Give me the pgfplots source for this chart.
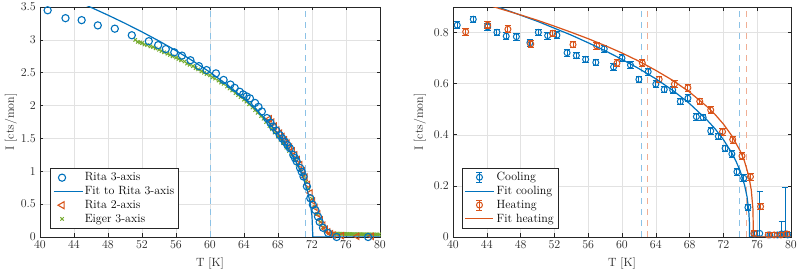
\documentclass[12pt,border=0pt]{standalone}
\usepackage{pgfplots}
\pgfplotsset{compat=1.18}

\definecolor{mblue}{HTML}{0072BD}
\definecolor{morange}{HTML}{D95319}
\definecolor{mgreen}{HTML}{77AC30}
\definecolor{lblue}{HTML}{8CC2E6}
\definecolor{lorange}{HTML}{F0AE94}
\definecolor{axgray}{HTML}{262626}
\definecolor{gridgray}{HTML}{E2E2E2}

\pgfplotsset{
  panel/.style={
    scale only axis, height=230bp,
    xmin=40, xmax=80, xtick={40,44,...,80},
    grid=major, grid style={gridgray, line width=0.5bp},
    axis line style={axgray, line width=0.6bp},
    tick style={axgray, line width=0.6bp},
    major tick length=3.5bp, tick align=inside,
    xtick pos=both, ytick pos=both,
    ticklabel style={text=axgray},
    xlabel={T [K]}, ylabel={I [cts/mon]},
    label style={text=axgray},
    xlabel style={at={([yshift=-27bp]axis description cs:0.5,0)}, anchor=center},
    clip mode=individual,
    legend cell align=left,
    legend style={draw=axgray, line width=0.5bp, fill=white, inner sep=2.5bp,
      nodes={inner sep=1.6bp, text=black}, row sep=0.6bp},
  },
  fitline/.style={line width=1.2bp, no marks},
  vdash/.style={line width=1bp, dash pattern=on 6bp off 5bp, forget plot},
  ebars/.style={only marks, mark=o, mark size=3bp, mark options={line width=1bp, solid},
    error bars/y dir=both, error bars/y explicit,
    error bars/error bar style={line width=0.9bp},
    error bars/error mark options={rotate=90, mark size=3.2bp, line width=0.9bp}},
  bluefitlegend/.style={legend image code/.code={\draw[mblue, line width=1.2bp] (0bp,0bp) -- (29bp,0bp);}},
  orangefitlegend/.style={legend image code/.code={\draw[morange, line width=1.2bp] (0bp,0bp) -- (28bp,0bp);}},
  blueebarlegend/.style={legend image code/.code={
    \draw[mblue, line width=0.9bp] (14bp,-5bp) -- (14bp,5bp) (11bp,-5bp) -- (17bp,-5bp) (11bp,5bp) -- (17bp,5bp);
    \draw[mblue, line width=1bp] (14bp,0bp) circle (3bp);}},
  orangeebarlegend/.style={legend image code/.code={
    \draw[morange, line width=0.9bp] (14bp,-5bp) -- (14bp,5bp) (11bp,-5bp) -- (17bp,-5bp) (11bp,5bp) -- (17bp,5bp);
    \draw[morange, line width=1bp] (14bp,0bp) circle (3bp);}},
}

\begin{document}
\begin{tikzpicture}
\useasboundingbox (0bp,0bp) rectangle (801bp,272bp);

% ---------------- left panel: order parameter vs temperature ----------------
\begin{axis}[panel, at={(40bp,35bp)}, anchor=south west, width=340bp,
  ymin=0, ymax=3.5, ytick={0,0.5,...,3.5},
  yticklabels={0,0.5,1,1.5,2,2.5,3,3.5},
  ylabel style={at={([xshift=-29bp]axis description cs:0,0.5)}, anchor=center},
  legend style={at={(0.03,0.038)}, anchor=south west}]

% legend entries
\addlegendimage{mblue, only marks, mark=o, mark size=3.6bp, mark options={line width=1.1bp}}
\addlegendentry{Rita 3-axis}
\addlegendimage{bluefitlegend}
\addlegendentry{Fit to Rita 3-axis}
\addlegendimage{morange, only marks, mark=triangle, mark size=4bp, mark options={rotate=90, line width=1.1bp}}
\addlegendentry{Rita 2-axis}
\addlegendimage{mgreen, only marks, mark=x, mark size=2.4bp, mark options={line width=1bp}}
\addlegendentry{Eiger 3-axis}

% transition markers
\addplot[lblue, vdash] coordinates {(60,0) (60,3.5)};
\addplot[lblue, vdash] coordinates {(71.2,0) (71.2,3.5)};

% Eiger 3-axis
\addplot[mgreen, only marks, mark=x, mark size=2.4bp, mark options={line width=1bp}, forget plot] coordinates {
(51.2,3.00) (51.5,2.97) (51.8,2.96) (52.0,2.95) (52.3,2.93) (52.6,2.92) (53.0,2.90) (53.3,2.89)
(53.6,2.87) (54.0,2.85) (54.3,2.83) (54.6,2.81) (55.0,2.79) (55.3,2.77) (55.6,2.75) (56.0,2.73)
(56.3,2.71) (56.6,2.69) (57.0,2.67) (57.3,2.64) (57.6,2.62) (58.0,2.60) (58.3,2.57) (58.6,2.55)
(59.0,2.52) (59.3,2.50) (59.6,2.48) (60.0,2.46) (60.3,2.43) (60.6,2.41) (61.0,2.38) (61.3,2.35)
(61.6,2.33) (62.0,2.29) (62.3,2.26) (62.6,2.23) (63.0,2.19) (63.3,2.16) (63.6,2.13) (64.0,2.09)
(64.3,2.06) (64.6,2.02) (65.0,1.97) (65.3,1.93) (65.6,1.89) (66.0,1.84) (66.3,1.80) (66.6,1.75)
(67.0,1.69) (67.3,1.64) (67.6,1.59) (68.0,1.53) (68.3,1.48) (68.6,1.43) (69.0,1.36) (69.3,1.31)
(69.6,1.25) (70.0,1.17) (70.3,1.10) (70.6,1.03) (71.0,0.93) (71.3,0.84) (71.6,0.73) (72.0,0.58)
(72.3,0.46) (72.6,0.35) (73.0,0.23) (73.3,0.15) (73.6,0.09) (74.0,0.06) (74.3,0.055) (74.5,0.05)
(74.7,0.05) (74.9,0.05) (75.1,0.05) (75.3,0.05) (75.5,0.048) (75.7,0.048) (75.9,0.046) (76.1,0.046)
(76.3,0.045) (76.5,0.045) (76.7,0.044) (76.9,0.044) (77.1,0.043) (77.3,0.043) (77.5,0.042) (77.7,0.042)
(77.9,0.041) (78.1,0.041) (78.3,0.040) (78.5,0.040) (78.7,0.040) (78.9,0.039) (79.1,0.039) (79.3,0.039)
(79.5,0.038) (79.7,0.038) (79.9,0.038)
};

% Rita 2-axis
\addplot[morange, only marks, mark=triangle, mark size=3.6bp, mark options={rotate=90, line width=1bp}, forget plot] coordinates {
(67.0,1.80) (67.3,1.75) (67.6,1.69) (67.9,1.63) (68.2,1.58) (68.5,1.53) (68.8,1.48) (69.1,1.43)
(69.4,1.37) (69.7,1.31) (70.0,1.25) (70.3,1.18) (70.6,1.10) (70.9,1.01) (71.2,0.91) (71.5,0.80)
(71.8,0.67) (72.1,0.55) (72.4,0.45) (72.7,0.35) (73.0,0.26) (73.3,0.18) (73.6,0.12) (73.9,0.08)
(74.2,0.05) (74.5,0.03) (75.5,0.02) (77.3,0.01) (79.0,0.01)
};

% Rita 3-axis
\addplot[mblue, only marks, mark=o, mark size=3.6bp, mark options={line width=1.1bp}, forget plot] coordinates {
(40.9,3.45) (43.0,3.33) (44.9,3.30) (46.8,3.22) (48.8,3.17) (50.8,3.07) (52.8,2.98) (53.9,2.92)
(54.8,2.86) (55.8,2.81) (56.7,2.76) (57.7,2.69) (58.7,2.60) (59.6,2.54) (60.7,2.49) (61.6,2.39)
(62.4,2.32) (62.9,2.27) (63.5,2.21) (63.9,2.17) (64.3,2.14) (64.7,2.11) (65.3,2.04) (65.7,1.98)
(66.1,1.91) (66.7,1.81) (67.1,1.74) (67.4,1.68) (67.8,1.62) (68.2,1.55) (68.5,1.50) (68.8,1.45)
(69.1,1.40) (69.4,1.35) (69.8,1.25) (70.0,1.20) (70.2,1.15) (70.6,1.05) (70.8,0.99) (71.0,0.92)
(71.4,0.77) (71.8,0.59) (72.1,0.49) (72.4,0.41) (72.7,0.31) (72.9,0.23) (73.3,0.14) (73.9,0.06)
(74.9,0.00) (78.6,0.00)
};

% power-law fit
\addplot[mblue, fitline, forget plot] coordinates {
(40,3.821) (42,3.716) (44,3.608) (46,3.494) (48,3.376) (50,3.252) (52,3.121) (54,2.983)
(56,2.836) (58,2.678) (60,2.507) (62,2.319) (64,2.108) (66,1.865) (67,1.726) (68,1.571)
(69,1.392) (70,1.177) (70.5,1.046) (71,0.890) (71.5,0.685) (71.8,0.507) (72.0,0.316)
(72.1,0) (80,0)
};
\end{axis}

% ---------------- right panel: cooling and heating runs ----------------
\begin{axis}[panel, at={(453bp,35bp)}, anchor=south west, width=338bp,
  ymin=0, ymax=0.9, ytick={0,0.2,0.4,0.6,0.8},
  yticklabels={0,0.2,0.4,0.6,0.8},
  ylabel style={at={([xshift=-33bp]axis description cs:0,0.5)}, anchor=center},
  legend style={at={(0.027,0.038)}, anchor=south west}]

\addlegendimage{blueebarlegend}
\addlegendentry{Cooling}
\addlegendimage{bluefitlegend}
\addlegendentry{Fit cooling}
\addlegendimage{orangeebarlegend}
\addlegendentry{Heating}
\addlegendimage{orangefitlegend}
\addlegendentry{Fit heating}

\addplot[lblue, vdash] coordinates {(62.33,0) (62.33,0.9)};
\addplot[lorange, vdash] coordinates {(62.96,0) (62.96,0.9)};
\addplot[lblue, vdash] coordinates {(73.96,0) (73.96,0.9)};
\addplot[lorange, vdash] coordinates {(74.7,0) (74.7,0.9)};

% cooling run
\addplot[mblue, forget plot, ebars] table[x index=0, y index=1, y error index=2] {
40.5 0.829 0.013
42.4 0.852 0.013
44.1 0.822 0.013
45.2 0.801 0.013
46.3 0.786 0.013
47.5 0.784 0.013
49.1 0.760 0.013
50.1 0.801 0.013
51.2 0.788 0.013
52.3 0.790 0.013
53.5 0.721 0.013
54.6 0.710 0.013
55.7 0.695 0.013
56.9 0.683 0.013
57.9 0.736 0.013
59.0 0.665 0.013
60.0 0.700 0.013
61.0 0.673 0.013
62.0 0.617 0.013
63.1 0.647 0.013
64.0 0.598 0.013
65.0 0.577 0.013
66.0 0.575 0.013
66.9 0.530 0.013
67.8 0.543 0.013
68.8 0.471 0.013
69.6 0.468 0.013
70.5 0.415 0.013
71.4 0.394 0.013
72.2 0.347 0.013
73.0 0.325 0.013
73.6 0.255 0.013
74.4 0.230 0.013
74.9 0.116 0.013
75.7 0.012 0.012
76.3 0.014 0.163
77.5 0.008 0.010
78.4 0.008 0.010
78.9 0.012 0.050
79.3 0.012 0.180
79.6 0.008 0.010
};

% heating run
\addplot[morange, forget plot, ebars] table[x index=0, y index=1, y error index=2] {
41.5 0.803 0.013
44.1 0.829 0.013
46.5 0.813 0.013
49.2 0.755 0.013
51.8 0.797 0.013
54.2 0.753 0.013
57.0 0.748 0.013
59.4 0.680 0.013
62.4 0.681 0.013
64.4 0.617 0.013
66.2 0.598 0.013
67.8 0.584 0.013
69.2 0.531 0.013
70.5 0.497 0.013
71.9 0.412 0.013
73.1 0.381 0.013
74.2 0.317 0.013
75.2 0.236 0.013
76.4 0.119 0.013
75.6 0.014 0.010
77.3 0.008 0.010
78.0 0.008 0.010
78.8 0.008 0.010
79.5 0.012 0.010
};

% power-law fits
\addplot[mblue, fitline, forget plot] coordinates {
(40,0.958) (42,0.937) (44,0.915) (46,0.892) (48,0.868) (50,0.844) (52,0.817) (54,0.790)
(56,0.760) (58,0.729) (60,0.695) (62,0.659) (64,0.619) (66,0.574) (68,0.522) (70,0.460)
(71,0.424) (72,0.381) (73,0.329) (73.5,0.296) (74,0.257) (74.5,0.204) (74.8,0.157)
(75.0,0.103) (75.08,0.056) (75.1,0) (80,0)
};
\addplot[morange, fitline, forget plot] coordinates {
(40,0.945) (42,0.928) (44,0.909) (46,0.889) (48,0.869) (50,0.848) (52,0.825) (54,0.801)
(56,0.776) (58,0.749) (60,0.720) (62,0.688) (64,0.652) (66,0.613) (68,0.567) (70,0.512)
(71,0.480) (72,0.442) (73,0.396) (74,0.336) (74.5,0.296) (75.0,0.239) (75.3,0.184)
(75.5,0.108) (75.55,0) (80,0)
};
\end{axis}
\end{tikzpicture}
\end{document}
